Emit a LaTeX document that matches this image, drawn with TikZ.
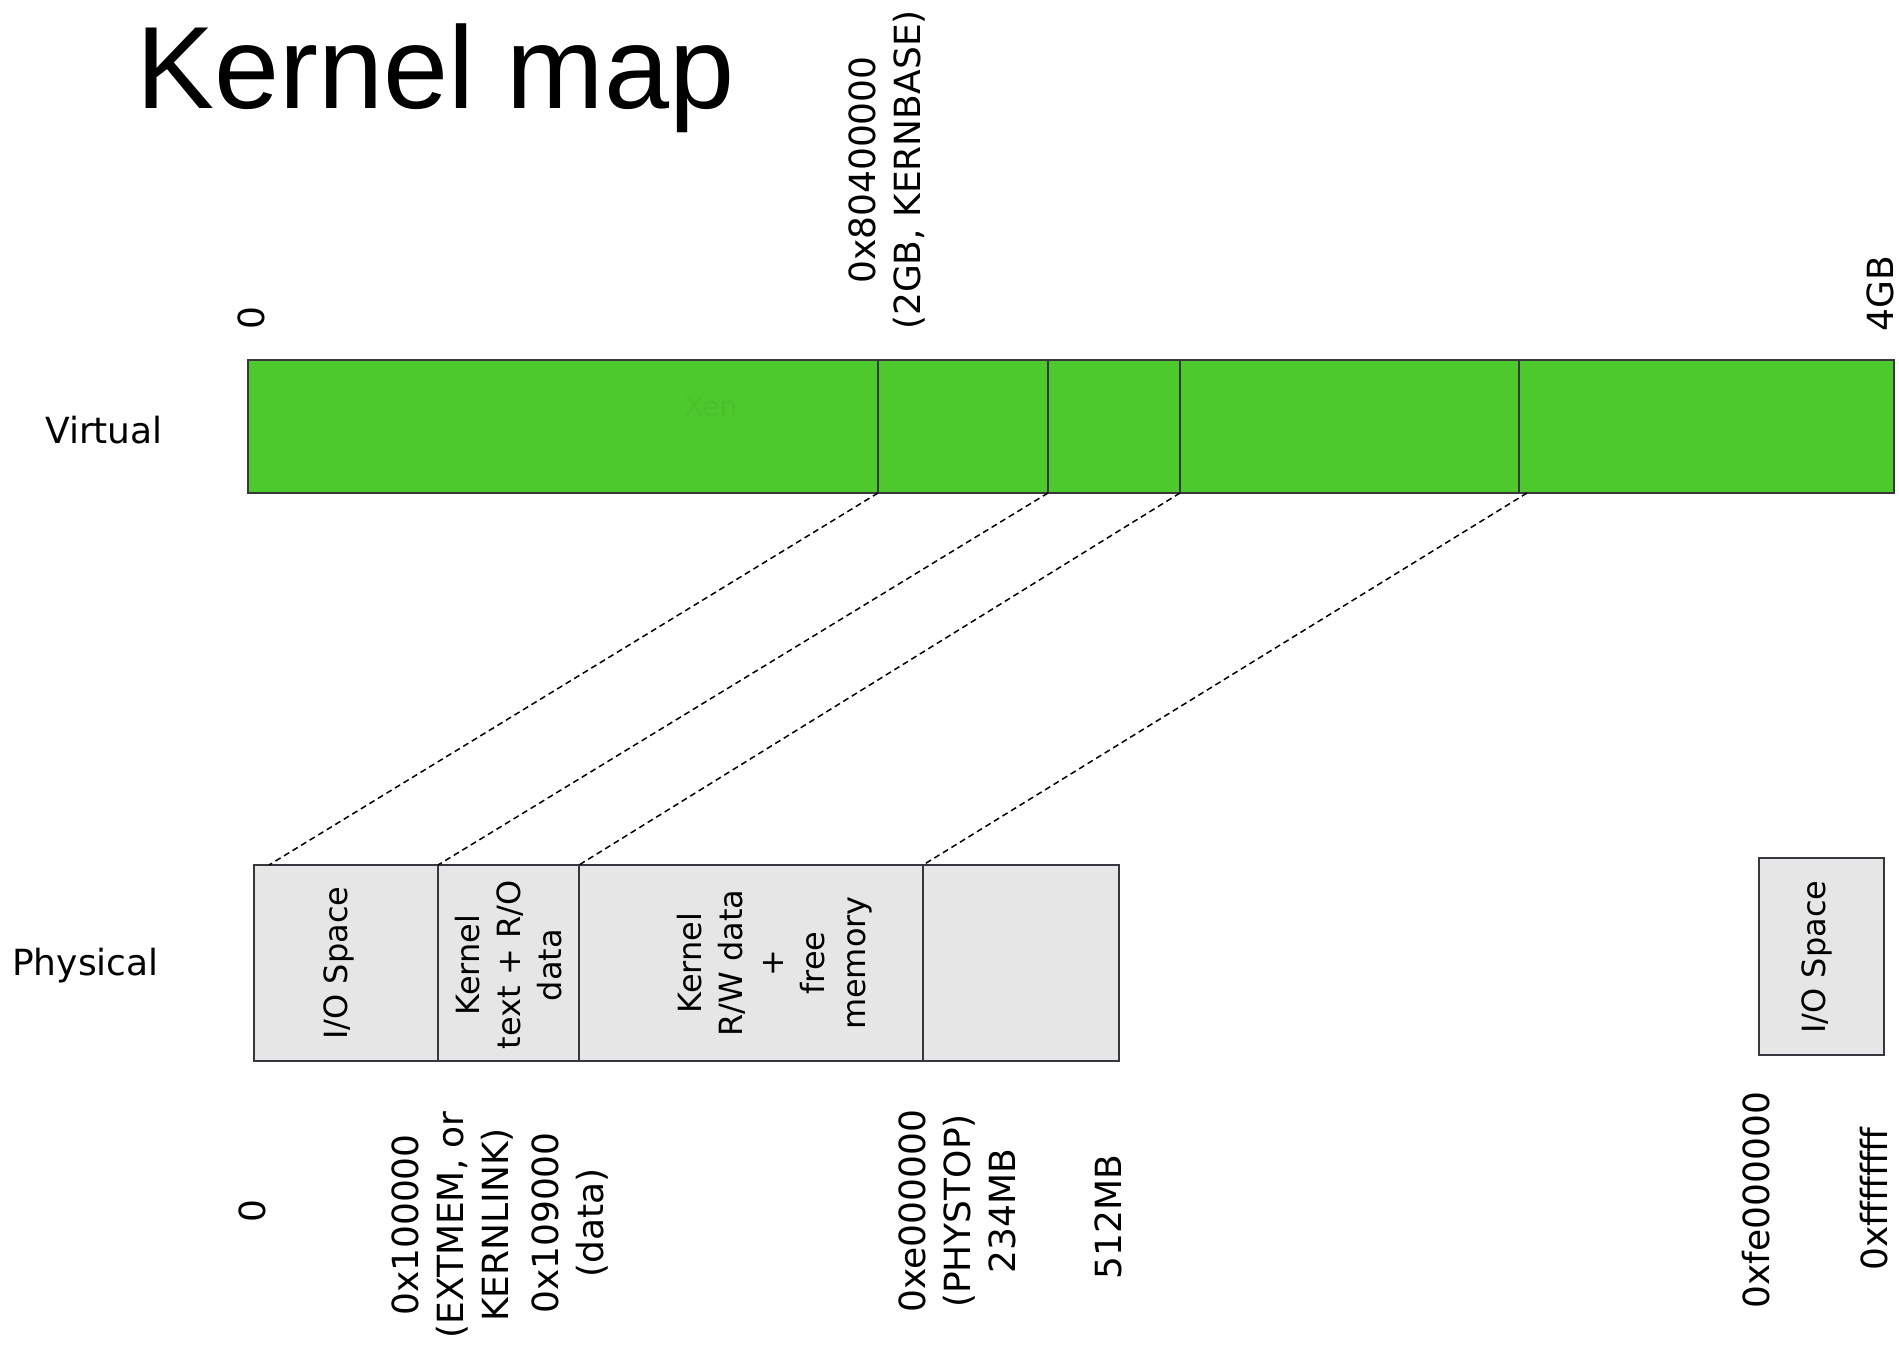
\documentclass[tikz,border=0pt]{standalone}
\usepackage{fontspec}
\setmainfont{DejaVu Sans}
\newfontfamily\titlefont{Liberation Sans}
\usetikzlibrary{positioning}

\definecolor{vgreen}{RGB}{77,200,45}
\definecolor{xengreen}{RGB}{73,193,43}
\definecolor{pgray}{RGB}{230,230,230}
\definecolor{edgegray}{RGB}{55,55,62}

\tikzset{
  vseg/.style={draw=edgegray, line width=2pt, fill=vgreen, minimum height=133pt, inner sep=0pt, outer sep=0pt},
  pseg/.style={draw=edgegray, line width=2pt, fill=pgray, minimum height=196pt, inner sep=0pt, outer sep=0pt},
  boxtext/.style={rotate=90, align=center, font=\fontsize{32}{41}\selectfont, inner sep=0pt},
  addr/.style={rotate=90, align=center, font=\fontsize{36}{45}\selectfont, inner sep=0pt},
  side/.style={anchor=west, font=\fontsize{36}{45}\selectfont, inner sep=0pt},
  mapline/.style={line width=1.5pt, dash pattern=on 6pt off 4pt}
}

\begin{document}
\begin{tikzpicture}[x=1pt,y=-1pt]
\useasboundingbox (0,0) rectangle (1899,1348);
\node[anchor=base west, inner sep=0pt] (title) at (136,109) {\titlefont\fontsize{117}{117}\selectfont Kernel map};
\node[side] (virt) at (45,430) {Virtual};
\node[side] (phys) at (12,966) {Physical};
% virtual address space
\node[vseg, minimum width=630pt] (v1) at (563,426.5) {};
\node[vseg, minimum width=170pt, right=0pt of v1] (v2) {};
\node[vseg, minimum width=132pt, right=0pt of v2] (v3) {};
\node[vseg, minimum width=339pt, right=0pt of v3] (v4) {};
\node[vseg, minimum width=375pt, right=0pt of v4] (v5) {};
\node[text=xengreen, font=\fontsize{28}{34}\selectfont, inner sep=0pt] (xen) at (711,406) {Xen};
\node[addr] (t0) at (251,318) {0};
\node[addr] (t1) at (887,170) {0x80400000\\(2GB, KERNBASE)};
\node[addr] (t2) at (1880,294) {4GB};
% physical memory
\node[pseg, minimum width=184pt] (p1) at (346,963) {};
\node[pseg, minimum width=141pt, right=0pt of p1] (p2) {};
\node[pseg, minimum width=344pt, right=0pt of p2] (p3) {};
\node[pseg, minimum width=196pt, right=0pt of p3] (p4) {};
\node[pseg, minimum width=125pt, minimum height=197pt] (pio) at (1821.5,956.5) {};
\node[boxtext] (io1) at (339,963) {I/O Space};
\node[boxtext] (ktext) at (509,965) {Kernel\\text + R/O\\data};
\node[boxtext] (kdata) at (775,963) {Kernel\\R/W data\\+\\free\\memory};
\node[boxtext] (io2) at (1817,957) {I/O Space};
\node[addr] (a0) at (252,1211) {0};
\node[addr] (a1) at (453,1225) {0x100000\\(EXTMEM, or\\KERNLINK)};
\node[addr] (a2) at (570,1223) {0x109000\\(data)};
\node[addr] (a3) at (957,1211) {0xe000000\\(PHYSTOP)\\234MB};
\node[addr] (a4) at (1108,1217) {512MB};
\node[addr] (a5) at (1756,1200) {0xfe000000};
\node[addr] (a6) at (1874,1199) {0xffffffff};
% mappings
\draw[mapline] (v1.south east) -- ([xshift=15pt]p1.north west);
\draw[mapline] (v2.south east) -- (p2.north west);
\draw[mapline] (v3.south east) -- (p3.north west);
\draw[mapline] ([xshift=8pt]v4.south east) -- (p4.north west);
\end{tikzpicture}
\end{document}
